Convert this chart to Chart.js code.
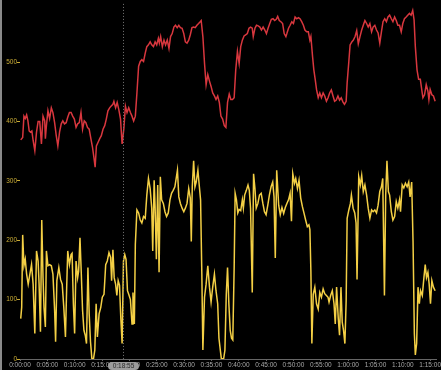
<!DOCTYPE html>
<html>
<head>
<meta charset="utf-8">
<script src="https://cdn.jsdelivr.net/npm/chart.js@4.4.1/dist/chart.umd.min.js"></script>
<style>
  html, body { margin: 0; padding: 0; background: #000; }
  #wrap { width: 441px; height: 370px; position: relative; }
</style>
</head>
<body>
<div id="wrap"><canvas id="myChart"></canvas></div>
<script>
// elapsed time in minutes
var redMin = [0.13,0.49,0.72,0.96,1.21,1.45,1.68,1.93,2.17,2.40,2.71,3.02,3.31,3.61,3.92,4.21,4.52,4.64,4.83,5.11,5.42,5.73,6.02,6.33,6.63,6.92,7.23,7.54,7.83,8.13,8.44,8.73,9.04,9.34,9.63,9.94,10.25,10.54,10.84,11.15,11.44,11.75,12.05,12.34,12.65,12.96,13.25,13.55,13.74,13.97,14.28,14.58,14.87,15.18,15.49,15.78,16.08,16.39,16.68,16.99,17.17,17.48,17.77,18.07,18.38,18.67,18.98,19.28,19.57,19.88,20.19,20.48,20.78,21.09,21.38,21.69,21.99,22.28,22.59,22.90,23.19,23.49,23.80,24.09,24.40,24.71,25.00,25.30,25.48,25.72,26.03,26.33,26.62,26.93,27.24,27.53,27.83,28.14,28.43,28.74,29.04,29.33,29.64,29.95,30.24,30.54,30.85,31.14,31.45,31.75,32.04,32.35,32.66,32.95,33.13,33.44,33.74,34.03,34.34,34.65,34.94,35.24,35.55,35.84,36.15,36.45,36.74,37.05,37.36,37.65,37.95,38.26,38.55,38.86,39.16,39.45,39.76,40.07,40.36,40.66,40.97,41.26,41.57,41.87,42.16,42.47,42.65,42.96,43.25,43.56,43.86,44.15,44.46,44.77,45.06,45.36,45.67,45.96,46.27,46.57,46.86,47.12,47.41,47.71,48.02,48.31,48.62,48.80,49.10,49.39,49.70,50.00,50.30,50.60,50.91,51.20,51.51,51.82,52.10,52.41,52.72,53.01,53.19,53.50,53.73,53.98,54.22,54.53,54.82,55.12,55.43,55.72,56.03,56.33,56.62,56.93,57.24,57.53,57.83,58.14,58.43,58.74,59.04,59.33,59.64,59.82,60.13,60.36,60.67,60.96,61.27,61.57,61.86,62.17,62.48,62.77,63.07,63.38,63.67,63.98,64.29,64.57,64.88,65.19,65.48,65.79,66.09,66.38,66.69,67.00,67.29,67.59,67.90,68.19,68.50,68.80,69.09,69.40,69.71,70.00,70.30,70.61,70.90,71.21,71.52,71.81,72.06,72.29,72.60,72.89,73.20,73.50,73.68,73.97,74.28,74.59,74.77,75.00,75.31,75.60,75.91];
var redVal = [369,373,409,405,411,401,384,382,384,368,351,382,400,400,362,409,401,371,393,418,405,423,415,398,376,359,382,396,401,396,398,407,415,415,409,404,390,396,398,415,387,401,398,390,387,371,357,337,323,359,365,371,376,387,393,404,418,423,426,429,434,423,432,420,404,362,387,426,415,423,415,409,401,409,448,493,501,504,501,515,526,529,534,529,526,534,529,540,532,543,526,537,529,537,523,543,548,559,562,558,562,558,557,548,534,532,537,546,558,559,558,562,565,568,570,543,498,462,479,468,459,448,443,437,443,432,409,404,393,390,432,446,437,437,440,487,518,498,526,537,544,546,548,557,559,557,543,557,562,561,559,554,559,554,548,557,565,572,573,570,572,577,570,568,565,548,543,548,557,562,568,565,576,573,575,573,568,562,554,551,551,537,543,509,487,471,454,440,448,440,448,443,434,440,448,453,443,434,436,443,436,440,433,429,434,465,501,529,534,537,543,553,531,543,554,562,570,565,559,565,551,559,562,554,549,532,551,568,573,568,576,579,573,568,576,570,562,562,551,565,573,576,579,582,579,587,571,526,487,471,471,451,440,445,462,451,437,454,445,443,434];

var yelMin = [0.13,0.31,0.49,0.72,0.96,1.21,1.50,1.81,2.11,2.40,2.71,3.02,3.31,3.49,3.74,3.98,4.21,4.39,4.64,4.83,5.11,5.42,5.73,6.02,6.33,6.51,6.74,7.10,7.41,7.72,8.01,8.31,8.55,8.73,9.04,9.34,9.52,9.76,9.99,10.25,10.54,10.72,10.97,11.21,11.44,11.69,11.93,12.16,12.42,12.65,12.89,13.14,13.43,13.68,13.92,14.15,14.46,14.77,15.05,15.36,15.67,15.96,16.27,16.57,16.75,16.99,17.22,17.48,17.71,17.95,18.20,18.43,18.67,18.92,19.16,19.39,19.65,19.88,20.19,20.48,20.66,20.91,21.09,21.38,21.69,21.99,22.28,22.59,22.90,23.19,23.49,23.80,24.09,24.27,24.53,24.71,24.94,25.18,25.43,25.66,25.90,26.21,26.51,26.80,27.11,27.42,27.71,28.01,28.32,28.61,28.79,29.04,29.33,29.64,29.95,30.24,30.54,30.85,31.14,31.32,31.50,31.75,31.99,32.22,32.53,32.77,33.02,33.25,33.44,33.74,34.03,34.34,34.65,34.94,35.24,35.55,35.84,36.15,36.38,36.63,36.81,37.23,37.47,37.72,37.95,38.19,38.44,38.68,38.91,39.16,39.34,39.58,39.82,40.07,40.36,40.66,40.84,41.08,41.39,41.69,41.93,42.16,42.47,42.71,42.96,43.19,43.50,43.79,44.10,44.41,44.70,45.00,45.31,45.60,45.91,46.21,46.45,46.68,46.94,47.30,47.59,47.90,48.21,48.51,48.80,49.10,49.39,49.64,49.88,50.19,50.42,50.73,51.02,51.33,51.63,51.92,52.23,52.54,52.83,53.01,53.19,53.37,53.62,53.91,54.22,54.53,54.82,55.12,55.43,55.72,56.03,56.33,56.51,56.80,57.11,57.42,57.65,57.89,58.20,58.43,58.69,58.92,59.16,59.41,59.64,59.82,60.13,60.42,60.60,60.91,61.21,61.45,61.63,61.94,62.23,62.48,62.77,63.07,63.38,63.67,63.98,64.29,64.57,64.88,65.19,65.48,65.79,66.09,66.33,66.64,66.87,67.10,67.36,67.59,67.90,68.19,68.50,68.80,69.09,69.40,69.58,69.89,70.18,70.48,70.79,71.08,71.33,71.62,71.87,72.11,72.29,72.53,72.78,73.02,73.25,73.56,73.86,74.10,74.33,74.59,74.82,75.06,75.31,75.60,75.91];
var yelVal = [68,87,209,157,168,143,126,143,159,126,43,182,165,126,46,234,137,87,54,182,157,159,157,143,82,29,132,154,134,126,87,37,126,182,159,176,178,93,43,165,137,148,204,143,82,48,40,26,154,76,29,1,0,15,93,37,76,87,104,109,159,165,179,171,132,184,137,126,107,132,124,70,26,165,176,168,115,109,100,59,112,59,193,251,246,234,229,240,237,276,304,287,254,182,301,254,168,293,146,307,268,262,248,240,246,268,279,284,290,307,318,273,262,254,248,254,262,287,271,198,290,334,290,298,318,293,268,143,15,104,126,157,121,96,121,143,115,93,35,15,1,0,15,109,154,93,48,35,32,154,279,268,246,252,250,268,254,276,284,293,284,254,112,312,287,254,262,276,279,262,248,243,259,276,290,298,273,170,318,259,243,255,245,255,262,268,279,232,312,296,304,287,301,271,257,246,234,223,226,218,148,26,109,121,93,84,112,104,118,110,107,104,96,107,115,93,59,121,68,40,121,62,48,26,98,237,251,262,276,254,246,229,134,307,293,309,282,293,276,254,237,251,248,251,246,259,282,290,304,107,276,334,282,276,248,234,240,265,254,268,248,293,288,296,290,298,273,298,198,43,7,26,121,93,115,107,137,159,137,146,126,93,132,121,115];

var yTicks = [0, 100, 200, 300, 400, 500];
var xTicks = [0, 5, 10, 15, 20, 25, 30, 35, 40, 45, 50, 55, 60, 65, 70, 75];
var markerMin = 18 + 55 / 60;   // 0:18:55
var markerLabel = '0:18:55';

function toPts(xs, ys) {
  return xs.map(function(x, i) { return { x: x, y: ys[i] }; });
}

function fmt(m) {
  var s = Math.round(m * 60);
  var h = Math.floor(s / 3600), mm = Math.floor((s % 3600) / 60), ss = s % 60;
  return h + ':' + (mm < 10 ? '0' : '') + mm + ':' + (ss < 10 ? '0' : '') + ss;
}

// left border, dotted marker line and the highlighted time box
var markerPlugin = {
  id: 'marker',
  afterDraw: function(chart) {
    var c = chart.ctx, area = chart.chartArea;
    var x = Math.round(chart.scales.x.getPixelForValue(markerMin)) + 0.5;
    c.save();
    c.fillStyle = '#8a8a8a';
    c.fillRect(0, 0, 2, chart.height);
    c.strokeStyle = '#777';
    c.lineWidth = 1;
    c.setLineDash([1, 2]);
    c.beginPath();
    c.moveTo(x, area.top);
    c.lineTo(x, area.bottom);
    c.stroke();
    c.setLineDash([]);
    var w = 31, h = 8, y = area.bottom + 3;
    c.fillStyle = '#9c9c9c';
    c.beginPath();
    c.roundRect(x - w / 2, y, w, h, 4);
    c.fill();
    c.fillStyle = '#2a2a2a';
    c.font = '6.5px "Liberation Sans", Arial, sans-serif';
    c.textAlign = 'center';
    c.textBaseline = 'middle';
    c.fillText(markerLabel, x, y + h / 2 + 0.5);
    c.restore();
  }
};

var ctx = document.getElementById('myChart').getContext('2d');
var myChart = new Chart(ctx, {
  type: 'line',
  data: {
    datasets: [{
      data: toPts(redMin, redVal),
      borderColor: '#d8373e',
      borderWidth: 1.5,
      pointRadius: 0,
      tension: 0
    }, {
      data: toPts(yelMin, yelVal),
      borderColor: '#f3cf45',
      borderWidth: 1.5,
      pointRadius: 0,
      tension: 0
    }]
  },
  options: {
    responsive: true,
    maintainAspectRatio: false,
    animation: false,
    layout: { padding: 0 },
    plugins: { legend: { display: false }, tooltip: { enabled: false } },
    scales: {
      x: {
        type: 'linear',
        min: 0,
        max: 76.1,
        afterBuildTicks: function(s) { s.ticks = xTicks.map(function(v) { return { value: v }; }); },
        afterFit: function(s) { s.height = 11; },
        border: { color: '#666', width: 1 },
        grid: { drawOnChartArea: false, tickLength: 2, color: '#666' },
        ticks: {
          color: '#a8a8a8',
          padding: 0,
          maxRotation: 0,
          autoSkip: false,
          font: { size: 6.5, family: '"Liberation Sans", Arial, sans-serif' },
          callback: function(v) { return fmt(v); }
        }
      },
      y: {
        min: 0,
        max: 598,
        afterBuildTicks: function(s) { s.ticks = yTicks.map(function(v) { return { value: v }; }); },
        afterFit: function(s) { s.width = 20; },
        border: { display: false },
        grid: { drawOnChartArea: false, tickLength: 3, color: '#c9ab35' },
        ticks: {
          color: '#c9ab35',
          padding: 0,
          font: { size: 6.5, family: '"Liberation Sans", Arial, sans-serif' }
        }
      }
    }
  },
  plugins: [markerPlugin]
});
</script>
</body>
</html>
